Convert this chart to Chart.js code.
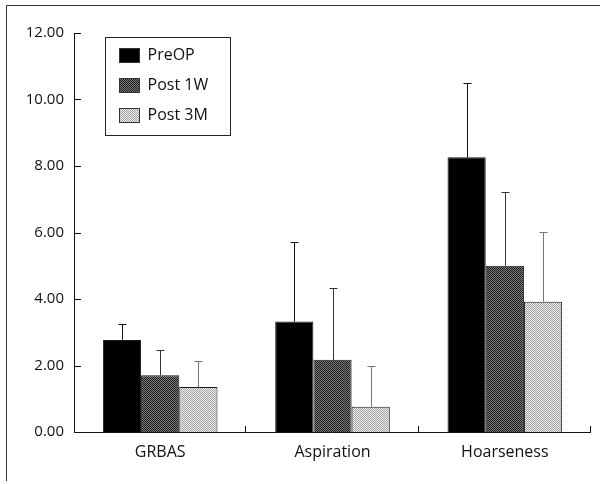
<!DOCTYPE html>
<html lang="en">
<head>
  <meta charset="UTF-8">
  <title>GRBAS / Aspiration / Hoarseness</title>
  <style>
    html, body { margin: 0; padding: 0; background: #fff; }
    #wrap { position: relative; width: 609px; height: 484px; }
    canvas { display: block; }
  </style>
</head>
<body>
  <div id="wrap">
    <canvas id="scoreChart" width="609" height="484"></canvas>
  </div>

  <script src="https://cdn.jsdelivr.net/npm/chart.js"></script>
  <script>
    // values (mean, + SD shown as upward error bars)
    const categories = ['GRBAS', 'Aspiration', 'Hoarseness'];
    const seriesNames = ['PreOP', 'Post 1W', 'Post 3M'];
    const preOp = [2.77, 3.32, 8.26];
    const post1w = [1.71, 2.17, 5.00];
    const post3m = [1.35, 0.76, 3.92];
    const preOpSd = [0.48, 2.39, 2.23];
    const post1wSd = [0.76, 2.16, 2.21];
    const post3mSd = [0.79, 1.23, 2.09];
    const yTicks = [0, 2, 4, 6, 8, 10, 12];

    const FONT = '"Open Sans", "DejaVu Sans", sans-serif';

    function makePattern(dark, light) {
      const c = document.createElement('canvas');
      c.width = 2; c.height = 2;
      const g = c.getContext('2d');
      g.fillStyle = light;
      g.fillRect(0, 0, 2, 2);
      g.fillStyle = dark;
      g.fillRect(0, 0, 1, 1);
      g.fillRect(1, 1, 1, 1);
      return g.createPattern(c, 'repeat');
    }

    const ctx = document.getElementById('scoreChart').getContext('2d');
    const fills = ['#000', makePattern('#1e1e1e', '#7a7a7a'), makePattern('#a0a0a0', '#f0f0f0')];
    const sds = [preOpSd, post1wSd, post3mSd];
    const sdColors = ['#111', '#333', '#777'];

    // inward ticks, category separators, error bars, legend box, frame
    const decorations = {
      id: 'decorations',
      afterDatasetsDraw(chart) {
        const c = chart.ctx;
        const y = chart.scales.y;
        const area = chart.chartArea;
        c.save();
        c.strokeStyle = '#111';
        c.lineWidth = 1;

        // axes
        c.beginPath();
        c.moveTo(area.left + 0.5, area.top);
        c.lineTo(area.left + 0.5, area.bottom + 0.5);
        c.lineTo(area.right, area.bottom + 0.5);
        c.stroke();

        // y ticks pointing right
        yTicks.forEach(v => {
          const py = Math.round(y.getPixelForValue(v)) + 0.5;
          c.beginPath();
          c.moveTo(area.left, py);
          c.lineTo(area.left + 7, py);
          c.stroke();
        });

        // category separators pointing up
        const step = (area.right - area.left) / categories.length;
        for (let i = 1; i <= categories.length; i++) {
          const px = Math.round(area.left + step * i) - 0.5;
          c.beginPath();
          c.moveTo(px, area.bottom);
          c.lineTo(px, area.bottom - 6);
          c.stroke();
        }

        // error bars (upper only)
        chart.data.datasets.forEach((ds, di) => {
          const meta = chart.getDatasetMeta(di);
          c.strokeStyle = sdColors[di];
          meta.data.forEach((bar, i) => {
            const top = y.getPixelForValue(ds.data[i] + sds[di][i]);
            const bx = Math.round(bar.x) + 0.5;
            const ty = Math.round(top) + 0.5;
            c.beginPath();
            c.moveTo(bx, bar.y);
            c.lineTo(bx, ty);
            c.moveTo(bx - 4, ty);
            c.lineTo(bx + 4, ty);
            c.stroke();
          });
        });

        // legend inside the plot
        const lx = 105.5, ly = 37.5, lw = 125, lh = 98;
        c.strokeStyle = '#222';
        c.fillStyle = '#fff';
        c.fillRect(lx, ly, lw, lh);
        c.strokeRect(lx, ly, lw, lh);
        c.font = '16px ' + FONT;
        c.textBaseline = 'middle';
        seriesNames.forEach((name, i) => {
          const cy = ly + 18 + i * 30;
          c.fillStyle = fills[i];
          c.fillRect(lx + 14, cy - 7, 20, 14);
          c.strokeStyle = '#333';
          c.strokeRect(lx + 14, cy - 7, 20, 14);
          c.fillStyle = '#111';
          c.fillText(name, lx + 42, cy);
        });

        // page frame (top and left edges)
        c.strokeStyle = '#333';
        c.beginPath();
        c.moveTo(600, 5.5);
        c.lineTo(6.5, 5.5);
        c.lineTo(6.5, 481);
        c.stroke();
        c.restore();
      }
    };

    new Chart(ctx, {
      type: 'bar',
      data: {
        labels: categories,
        datasets: [preOp, post1w, post3m].map((vals, i) => ({
          label: seriesNames[i],
          data: vals,
          backgroundColor: fills[i],
          borderColor: '#1a1a1a',
          borderWidth: 1,
          barPercentage: 1,
          categoryPercentage: 0.665
        }))
      },
      options: {
        responsive: false,
        animation: false,
        layout: { padding: { top: 33, right: 18, left: 0, bottom: 0 } },
        plugins: {
          legend: { display: false },
          tooltip: { enabled: false }
        },
        scales: {
          x: {
            grid: { display: false, drawTicks: false },
            border: { display: false },
            ticks: { color: '#111', padding: 11, font: { family: FONT, size: 16 } },
            afterFit(scale) { scale.height = 52; }
          },
          y: {
            min: 0,
            max: 12,
            afterBuildTicks(scale) { scale.ticks = yTicks.map(v => ({ value: v })); },
            grid: { display: false, drawTicks: false },
            border: { display: false },
            ticks: {
              color: '#111',
              padding: 10,
              font: { family: FONT, size: 15 },
              callback: v => Number(v).toFixed(2)
            },
            afterFit(scale) { scale.width = 74; }
          }
        }
      },
      plugins: [decorations]
    });
  </script>
</body>
</html>
